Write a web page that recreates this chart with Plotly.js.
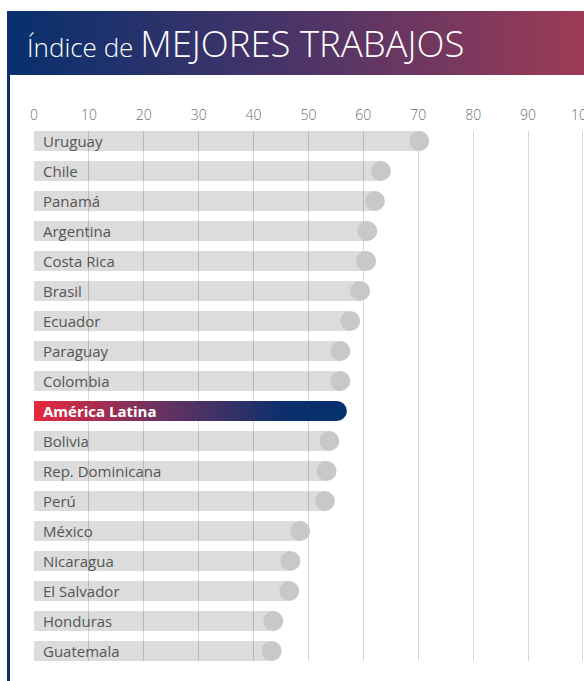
<!DOCTYPE html>
<html>
<head>
<meta charset="utf-8">
<script src="https://cdn.plot.ly/plotly-3.0.1.min.js"></script>
<style>
  html, body { margin: 0; padding: 0; background: #ffffff; }
  #wrap { position: relative; width: 584px; height: 681px; overflow: hidden; }
  #banner { position: absolute; left: 7px; top: 11px; width: 577px; height: 64px;
    background: linear-gradient(90deg, #06306e 0%, #4b3468 50%, #9e3b56 100%); }
  #vline { position: absolute; left: 7px; top: 11px; width: 3px; height: 670px; background: #0b2f6e; }
  #chart { position: absolute; left: 0; top: 0; width: 584px; height: 681px; }
</style>
</head>
<body>
<div id="wrap">
  <div id="banner"></div>
  <div id="vline"></div>
  <div id="chart"></div>
</div>
<script>
const countries = ["Uruguay","Chile","Panamá","Argentina","Costa Rica","Brasil","Ecuador","Paraguay","Colombia","América Latina","Bolivia","Rep. Dominicana","Perú","México","Nicaragua","El Salvador","Honduras","Guatemala"];
const values = [70.2,63.2,62.1,60.7,60.5,59.4,57.6,55.8,55.8,57.0,53.8,53.3,53.0,48.5,46.7,46.5,43.6,43.3];
const highlight = "América Latina";
const xTicks = [0,10,20,30,40,50,60,70,80,90,100];

const FONT = "Open Sans, Lato, sans-serif";

const grayY = countries.filter(c => c !== highlight);
const grayX = values.filter((v, i) => countries[i] !== highlight);
const hlIdx = countries.indexOf(highlight);

const traces = [
  { type: 'bar', orientation: 'h', y: grayY, x: grayX, width: 0.667,
    marker: { color: 'rgba(0,0,0,0.137)', line: { width: 0 } }, hoverinfo: 'x+y' },
  { type: 'bar', orientation: 'h', y: [highlight], x: [values[hlIdx]], width: 0.667,
    marker: { color: '#0b2f6e', cornerradius: 10, line: { width: 0 } }, hoverinfo: 'x+y' },
  { type: 'scatter', mode: 'markers', y: grayY, x: grayX,
    marker: { size: 20, color: '#c8c8ca', line: { width: 0 } }, hoverinfo: 'x+y' }
];

const annotations = countries.map(c => ({
  x: 0, y: c, xref: 'x', yref: 'y', xanchor: 'left', yanchor: 'middle', xshift: 7, yshift: 0,
  showarrow: false,
  text: c === highlight ? '<b>' + c + '</b>' : c,
  font: { family: FONT, size: 15, color: c === highlight ? '#ffffff' : '#555555' }
}));

const layout = {
  width: 584, height: 681,
  margin: { l: 34, r: 0, t: 131, b: 20 },
  paper_bgcolor: 'rgba(0,0,0,0)', plot_bgcolor: 'rgba(0,0,0,0)',
  showlegend: false, barmode: 'overlay',
  font: { family: FONT, color: '#555555' },
  annotations: annotations,
  title: {
    text: 'Índice de <span style="font-size:36.5px">MEJORES TRABAJOS</span>',
    font: { family: FONT, size: 26, color: '#ffffff', weight: 300 },
    xref: 'container', x: 27 / 584, xanchor: 'left',
    yref: 'container', y: 1 - 48 / 681, yanchor: 'middle'
  },
  xaxis: {
    side: 'top', range: [0, 100.2], tickvals: xTicks, ticktext: xTicks.map(String),
    showgrid: true, gridcolor: '#d6d6d6', gridwidth: 1, zeroline: false, showline: false,
    ticks: '', ticklabelstandoff: 7, ticklabeloverflow: 'allow', fixedrange: true,
    tickfont: { family: FONT, size: 14, color: '#6e6e6e', weight: 300 }
  },
  yaxis: {
    type: 'category', categoryorder: 'array', categoryarray: countries,
    range: [17.333, -0.333], showticklabels: false, ticks: '',
    showgrid: false, zeroline: false, showline: false, fixedrange: true
  }
};

Plotly.newPlot('chart', traces, layout, { displayModeBar: false, staticPlot: true }).then(gd => {
  const svg = gd.querySelector('svg.main-svg');
  const NS = 'http://www.w3.org/2000/svg';
  let defs = svg.querySelector('defs');
  if (!defs) { defs = document.createElementNS(NS, 'defs'); svg.insertBefore(defs, svg.firstChild); }
  const grad = document.createElementNS(NS, 'linearGradient');
  grad.setAttribute('id', 'alGrad');
  grad.setAttribute('x1', '0'); grad.setAttribute('x2', '1');
  grad.setAttribute('y1', '0'); grad.setAttribute('y2', '0');
  [['0%', '#e8293d'], ['40%', '#6a3262'], ['80%', '#0c2f6c'], ['100%', '#05306e']].forEach(([o, c]) => {
    const s = document.createElementNS(NS, 'stop');
    s.setAttribute('offset', o); s.setAttribute('stop-color', c);
    grad.appendChild(s);
  });
  defs.appendChild(grad);
  const barTraces = gd.querySelectorAll('.barlayer .trace');
  if (barTraces.length > 1) {
    barTraces[1].querySelectorAll('path').forEach(p => { p.style.fill = 'url(#alGrad)'; });
  }
});
</script>
</body>
</html>
